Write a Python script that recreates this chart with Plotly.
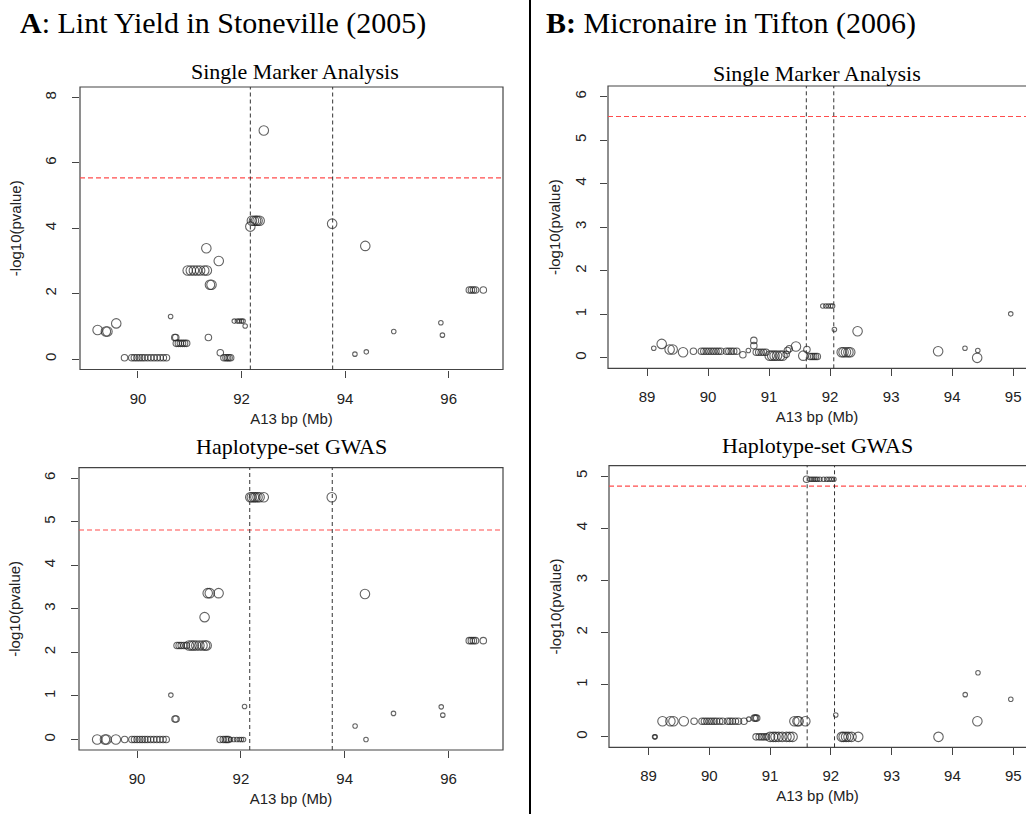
import plotly.graph_objects as go

W, H = 1026, 814

# ---------------- DATA ----------------
# size class: 1 = small, 2 = medium, 3 = large
a_top_x = [89.22, 89.38, 89.41, 89.58,
           89.74, 89.88, 89.93, 89.98, 90.03, 90.08, 90.13, 90.19, 90.25, 90.31, 90.37, 90.43, 90.49, 90.55,
           90.63, 90.71, 90.73,
           90.74, 90.78, 90.82, 90.86, 90.90, 90.94,
           90.96, 91.02, 91.08, 91.14, 91.20, 91.28, 91.33,
           91.32, 91.36, 91.39, 91.42, 91.56, 91.59,
           91.66, 91.70, 91.73, 91.76, 91.79,
           91.86, 91.92, 91.96, 92.00, 92.03, 92.07,
           92.17, 92.20, 92.24, 92.28, 92.31, 92.35, 92.43,
           93.75, 94.19, 94.39, 94.41, 94.94, 95.85, 95.88,
           96.40, 96.44, 96.48, 96.52, 96.67]
a_top_y = [0.89, 0.84, 0.84, 1.09,
           0.04, 0.04, 0.04, 0.04, 0.04, 0.04, 0.04, 0.04, 0.04, 0.04, 0.04, 0.04, 0.04, 0.04,
           1.30, 0.66, 0.66,
           0.48, 0.48, 0.48, 0.48, 0.48, 0.48,
           2.71, 2.71, 2.71, 2.71, 2.71, 2.71, 2.71,
           3.39, 0.66, 2.27, 2.27, 3.00, 0.19,
           0.04, 0.04, 0.04, 0.04, 0.04,
           1.16, 1.16, 1.16, 1.16, 1.16, 1.01,
           4.05, 4.23, 4.23, 4.23, 4.23, 4.23, 6.99,
           4.14, 0.15, 3.46, 0.22, 0.84, 1.11, 0.73,
           2.11, 2.11, 2.11, 2.11, 2.11]
a_top_cls = [3, 3, 3, 3,
             2, 2, 2, 2, 2, 2, 2, 2, 2, 2, 2, 2, 2, 2,
             1, 2, 2,
             2, 2, 2, 2, 2, 2,
             3, 3, 3, 3, 3, 3, 3,
             3, 2, 3, 3, 3, 2,
             2, 2, 2, 2, 2,
             1, 1, 1, 1, 1, 1,
             3, 3, 3, 3, 3, 3, 3,
             3, 1, 3, 1, 1, 1, 1,
             2, 2, 2, 2, 2]

a_bot_x = [89.23, 89.38, 89.41, 89.59, 89.76,
           89.90, 89.95, 90.00, 90.05, 90.10, 90.15, 90.20, 90.26, 90.32, 90.38, 90.44, 90.50, 90.56,
           90.65, 90.73, 90.75,
           90.77, 90.81, 90.85, 90.90, 90.95, 91.00, 91.05, 91.09, 91.14, 91.20, 91.26, 91.31, 91.34,
           91.30, 91.36, 91.40, 91.57,
           91.60, 91.66, 91.70, 91.73, 91.76, 91.80, 91.86, 91.92, 91.97, 92.01, 92.05,
           92.07,
           92.18, 92.21, 92.25, 92.28, 92.32, 92.36, 92.44,
           93.75, 94.20, 94.39, 94.41, 94.94, 95.86, 95.89,
           96.40, 96.44, 96.48, 96.52, 96.67]
a_bot_y = [0, 0, 0, 0, 0,
           0, 0, 0, 0, 0, 0, 0, 0, 0, 0, 0, 0, 0,
           1.02, 0.47, 0.47,
           2.16, 2.16, 2.16, 2.16, 2.16, 2.16, 2.16, 2.16, 2.16, 2.16, 2.16, 2.16, 2.16,
           2.81, 3.36, 3.36, 3.36,
           0, 0, 0, 0, 0, 0, 0, 0, 0, 0, 0,
           0.76,
           5.56, 5.56, 5.56, 5.56, 5.56, 5.56, 5.56,
           5.56, 0.31, 3.34, 0, 0.60, 0.75, 0.56,
           2.27, 2.27, 2.27, 2.27, 2.27]
a_bot_cls = [3, 3, 3, 3, 2,
             2, 2, 2, 2, 2, 2, 2, 2, 2, 2, 2, 2, 2,
             1, 2, 2,
             2, 2, 2, 2, 2, 3, 3, 3, 3, 3, 3, 3, 3,
             3, 3, 3, 3,
             2, 2, 2, 2, 2, 1, 1, 1, 1, 1, 1,
             1,
             3, 3, 3, 3, 3, 3, 3,
             3, 1, 3, 1, 1, 1, 1,
             2, 2, 2, 2, 2]

b_top_x = [89.11, 89.24, 89.37, 89.42, 89.59, 89.76,
           89.89, 89.93, 89.97, 90.01, 90.05, 90.09, 90.13, 90.17, 90.21,
           90.30, 90.34, 90.38, 90.42, 90.47, 90.57, 90.66,
           90.75, 90.75,
           90.79, 90.83, 90.87, 90.91, 90.95,
           91.01, 91.05, 91.09, 91.13, 91.18, 91.22,
           91.28, 91.30, 91.33, 91.44, 91.56, 91.62,
           91.67, 91.70, 91.73, 91.76, 91.79,
           91.88, 91.93, 91.97, 92.01, 92.04, 92.07,
           92.19, 92.22, 92.26, 92.30, 92.33, 92.45,
           93.77, 94.21, 94.42, 94.41, 94.96]
b_top_y = [0.22, 0.32, 0.19, 0.19, 0.13, 0.15,
           0.15, 0.15, 0.15, 0.15, 0.15, 0.15, 0.15, 0.15, 0.15,
           0.15, 0.15, 0.15, 0.15, 0.15, 0.07, 0.17,
           0.40, 0.28,
           0.13, 0.13, 0.13, 0.13, 0.13,
           0.05, 0.05, 0.05, 0.05, 0.05, 0.05,
           0.08, 0.17, 0.21, 0.26, 0.05, 0.19,
           0.03, 0.03, 0.03, 0.03, 0.03,
           1.19, 1.19, 1.19, 1.19, 1.19, 0.65,
           0.13, 0.13, 0.13, 0.13, 0.13, 0.61,
           0.15, 0.22, 0.17, 0.00, 1.01]
b_top_cls = [1, 3, 3, 3, 3, 2,
             2, 2, 2, 2, 2, 2, 2, 2, 2,
             2, 2, 2, 2, 2, 2, 1,
             2, 2,
             2, 2, 2, 2, 2,
             3, 3, 3, 3, 3, 3,
             2, 2, 2, 3, 3, 2,
             2, 2, 2, 2, 2,
             1, 1, 1, 1, 1, 1,
             3, 3, 3, 3, 3, 3,
             3, 1, 1, 3, 1]

b_bot_x = [89.10, 89.11, 89.23, 89.36, 89.41, 89.58, 89.75,
           89.88, 89.92, 89.96, 90.00, 90.04, 90.08, 90.12, 90.17, 90.22, 90.30, 90.34, 90.38, 90.43, 90.48, 90.57,
           90.65, 90.74, 90.76, 90.78,
           90.77, 90.82, 90.86, 90.90, 90.94, 91.00, 91.05, 91.09, 91.14, 91.20, 91.27, 91.32, 91.37,
           91.40, 91.45, 91.47, 91.58,
           91.60, 91.66, 91.69, 91.72, 91.75, 91.78, 91.82, 91.88, 91.93, 91.97, 92.01, 92.05,
           92.08,
           92.18, 92.21, 92.25, 92.29, 92.34, 92.45,
           93.77, 94.21, 94.42, 94.41, 94.96]
b_bot_y = [0, 0, 0.30, 0.30, 0.30, 0.30, 0.30,
           0.30, 0.30, 0.30, 0.30, 0.30, 0.30, 0.30, 0.30, 0.30, 0.30, 0.30, 0.30, 0.30, 0.30, 0.30,
           0.34, 0.36, 0.36, 0.36,
           0, 0, 0, 0, 0, 0, 0, 0, 0, 0, 0, 0, 0,
           0.30, 0.30, 0.30, 0.30,
           4.94, 4.94, 4.94, 4.94, 4.94, 4.94, 4.94, 4.94, 4.94, 4.94, 4.94, 4.94,
           0.42,
           0, 0, 0, 0, 0, 0,
           0, 0.81, 1.23, 0.30, 0.72]
b_bot_cls = [1, 1, 3, 3, 3, 3, 2,
             2, 2, 2, 2, 2, 2, 2, 2, 2, 2, 2, 2, 2, 2, 2,
             1, 2, 2, 2,
             2, 2, 2, 2, 2, 3, 3, 3, 3, 3, 3, 3, 3,
             3, 3, 3, 3,
             2, 1, 1, 1, 1, 1, 1, 1, 1, 1, 1, 1,
             1,
             3, 3, 3, 3, 3, 3,
             3, 1, 1, 3, 1]

# thresholds and region boundaries
a_top_threshold = 5.54
a_bot_threshold = 4.81
b_top_threshold = 5.54
b_bot_threshold = 4.81
a_region = [92.17, 93.76]
b_region = [91.61, 92.06]

main_titles = ["<b>A</b>: Lint Yield in Stoneville (2005)", "<b>B:</b> Micronaire in Tifton (2006)"]
sub_titles = ["Single Marker Analysis", "Haplotype-set GWAS"]
x_title = "A13 bp (Mb)"
y_title = "-log10(pvalue)"
a_xticks = [90, 92, 94, 96]
b_xticks = [89, 90, 91, 92, 93, 94, 95]

# ---------------- FIGURE ----------------
SIZE = {1: 4.5, 2: 6.5, 3: 9.5}
SANS = "Liberation Sans, Arial, sans-serif"
SERIF = "Liberation Serif, Times New Roman, serif"
INK = "#222222"
BOX = "#444444"
FS = 15

def px_x(v):
    return v / W

def px_y(v):
    return (H - v) / H

panels = [
    # name, x, y, cls, xdomain(px), ydomain(px top,bottom), xrange, yrange, yticks, xticks,
    # threshold, region, full box, ytick standoff, ytitle standoff
    ("1", a_top_x, a_top_y, a_top_cls, (80, 503), (87, 369.5), [88.88, 97.05], [-0.32, 8.32],
     [0, 2, 4, 6, 8], a_xticks, a_top_threshold, a_region, True, 10, 16),
    ("2", a_bot_x, a_bot_y, a_bot_cls, (79, 503), (467.7, 750), [88.88, 97.05], [-0.24, 6.24],
     [0, 1, 2, 3, 4, 5, 6], a_xticks, a_bot_threshold, a_region, True, 10, 16),
    ("3", b_top_x, b_top_y, b_top_cls, (608, 1026), (86, 368.3), [88.36, 95.21], [-0.24, 6.24],
     [0, 1, 2, 3, 4, 5, 6], b_xticks, b_top_threshold, b_region, False, 8, 7),
    ("4", b_bot_x, b_bot_y, b_bot_cls, (609, 1026), (465.7, 747.3), [88.35, 95.21], [-0.2, 5.2],
     [0, 1, 2, 3, 4, 5], b_xticks, b_bot_threshold, b_region, False, 8, 7),
]

fig = go.Figure()
layout = dict(
    width=W, height=H,
    margin=dict(l=0, r=0, t=0, b=0),
    paper_bgcolor="white", plot_bgcolor="white",
    showlegend=False,
    shapes=[], annotations=[],
)

for name, xs, ys, cls, xd, yd, xr, yr, yt, xt, thr, reg, full, ytso, ytitso in panels:
    xa = "x" if name == "1" else "x" + name
    ya = "y" if name == "1" else "y" + name
    fig.add_trace(go.Scatter(
        x=xs, y=ys, mode="markers", xaxis=xa, yaxis=ya,
        marker=dict(symbol="circle-open", size=[SIZE[c] for c in cls],
                    color=INK, line=dict(width=1.1, color=INK)),
        hoverinfo="x+y",
    ))
    layout["xaxis" + ("" if name == "1" else name)] = dict(
        domain=[px_x(xd[0]), px_x(xd[1])], range=xr, anchor=ya,
        tickmode="array", tickvals=xt, ticks="outside", ticklen=7, tickcolor=BOX,
        showgrid=False, zeroline=False, showline=False,
        tickfont=dict(family=SANS, size=FS, color=INK), ticklabelstandoff=8,
        title=dict(text=x_title, font=dict(family=SANS, size=FS, color=INK), standoff=7),
    )
    layout["yaxis" + ("" if name == "1" else name)] = dict(
        domain=[px_y(yd[1]), px_y(yd[0])], range=yr, anchor=xa,
        tickmode="array", tickvals=yt, ticks="outside", ticklen=7, tickcolor=BOX,
        tickangle=-90,
        showgrid=False, zeroline=False, showline=False,
        tickfont=dict(family=SANS, size=FS, color=INK), ticklabelstandoff=ytso,
        title=dict(text=y_title, font=dict(family=SANS, size=FS, color=INK), standoff=ytitso),
    )
    xref_d = xa + " domain"
    yref_d = ya + " domain"
    # plot box
    layout["shapes"].append(dict(type="rect", xref=xref_d, yref=yref_d, x0=0, x1=1 if full else 1.05,
                                 y0=0, y1=1, line=dict(color=BOX, width=1.2), layer="above"))
    # significance threshold
    layout["shapes"].append(dict(type="line", xref=xref_d, yref=ya, x0=0, x1=1, y0=thr, y1=thr,
                                 line=dict(color="#ff4d4d", width=1.2, dash="5px,3px")))
    # region boundaries
    for r in reg:
        layout["shapes"].append(dict(type="line", xref=xa, yref=yref_d, x0=r, x1=r, y0=0, y1=1,
                                     line=dict(color="#333333", width=1, dash="4px,3px")))

# separator between A and B
layout["shapes"].append(dict(type="line", xref="paper", yref="paper", x0=px_x(530), x1=px_x(530),
                             y0=0, y1=1, line=dict(color="black", width=2)))

# main titles
layout["annotations"].append(dict(text=main_titles[0], x=px_x(18), y=px_y(23), xref="paper", yref="paper",
                                  xanchor="left", yanchor="middle", showarrow=False,
                                  font=dict(family=SERIF, size=30, color="black")))
layout["annotations"].append(dict(text=main_titles[1], x=px_x(544), y=px_y(23), xref="paper", yref="paper",
                                  xanchor="left", yanchor="middle", showarrow=False,
                                  font=dict(family=SERIF, size=30, color="black")))
# panel subtitles
for txt, cx, cy in [(sub_titles[0], 295, 72), (sub_titles[0], 817, 73),
                    (sub_titles[1], 291, 447), (sub_titles[1], 817, 445)]:
    layout["annotations"].append(dict(text=txt, x=px_x(cx), y=px_y(cy), xref="paper", yref="paper",
                                      xanchor="center", yanchor="middle", showarrow=False,
                                      font=dict(family=SERIF, size=22, color="black")))

fig.update_layout(**layout)
fig.write_html("out.html")
